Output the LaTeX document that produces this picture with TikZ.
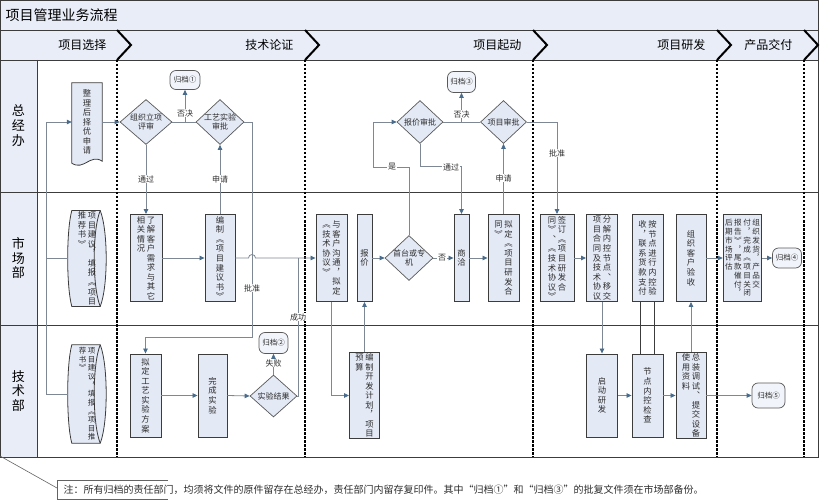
\documentclass[tikz,border=0pt]{standalone}
\usepackage{fontspec}
\setmainfont{Noto Sans CJK SC}
\usetikzlibrary{shapes.geometric,arrows.meta,calc,backgrounds}

\definecolor{bandfill}{RGB}{232,237,247}
\definecolor{boxfill}{RGB}{227,233,245}
\definecolor{boxline}{RGB}{60,60,60}
\definecolor{flowline}{RGB}{125,136,148}
\definecolor{tipblue}{RGB}{74,108,140}
\definecolor{inkgray}{RGB}{45,45,45}

\newcommand\vcol[1]{\vtop{\hsize=1.2em\baselineskip=1.15em\lineskiplimit=-20pt\vcolchars#1\relax}}
\def\vcolchars#1{\ifx\relax#1\else\hbox to\hsize{\hss#1\hss}\expandafter\vcolchars\fi}

\tikzset{
  proc/.style={rectangle, draw=boxline, fill=boxfill, line width=0.9pt, minimum height=87, inner sep=1pt, text=inkgray, font=\fontsize{8.3}{9.5}\selectfont},
  docnode/.style={rectangle, inner sep=1pt, text=inkgray, font=\fontsize{8.3}{9.5}\selectfont},
  docline/.style={draw=boxline, fill=boxfill, line width=0.8pt},
  decision/.style={diamond, draw=gray!70!black, fill=boxfill, line width=0.7pt, inner sep=0pt, label={[dlabel]center:#1}},
  dlabel/.style={align=center, font=\fontsize{8}{9.5}\selectfont, text=inkgray},
  archive/.style={rectangle, rounded corners=6pt, draw=gray!70!black, fill=boxfill!50!white, line width=0.7pt, inner sep=1pt, font=\fontsize{7.5}{9}\selectfont, text=inkgray},
  conn/.style={draw=flowline, line width=0.8pt},
  arr/.style={conn, -{Triangle[length=5pt, width=4.5pt, color=tipblue]}},
  lab/.style={fill=white, inner sep=0.6pt, font=\fontsize{8}{9}\selectfont, text=inkgray},
  phase/.style={line width=2.4pt, dash pattern=on 2.5pt off 1.5pt},
  chev/.style={line width=2pt, line join=miter},
  lane/.style={font=\fontsize{13}{15}\selectfont},
  head/.style={anchor=east, font=\fontsize{12}{14}\selectfont}
}

\begin{document}
\begin{tikzpicture}[x=1pt, y=-1pt]
        \useasboundingbox (0,0) rectangle (820,500);

        \fill[bandfill] (0,0) rectangle (818,60);
        \fill[bandfill] (0,60) rectangle (37,457);
        \draw[boxline, line width=0.8pt] (0,0) rectangle (818,457);
        \draw[boxline, line width=0.8pt] (0,30) -- (818,30);
        \draw[boxline, line width=0.8pt] (0,60) -- (818,60);
        \draw[boxline, line width=0.8pt] (0,192) -- (818,192);
        \draw[boxline, line width=0.8pt] (0,325) -- (818,325);
        \draw[boxline, line width=0.8pt] (37,60) -- (37,457);

        \foreach \p in {117,305,533,717,804} {
            \draw[chev] (\p,30) -- (\p+14,45) -- (\p,60);
            \draw[phase] (\p,60) -- (\p,457);
        }

        \node[anchor=west, font=\fontsize{14}{16}\selectfont] (title) at (2,15) {项目管理业务流程};
        \node[head] (h1) at (110,45) {项目选择};
        \node[head] (h2) at (297,45) {技术论证};
        \node[head] (h3) at (525,45) {项目起动};
        \node[head] (h4) at (709,45) {项目研发};
        \node[head] (h5) at (796,45) {产品交付};

        \node[lane] (zjb) at (18.5,126) {\vcol{总经办}};
        \node[lane] (scb) at (18.5,258) {\vcol{市场部}};
        \node[lane] (jsb) at (18.5,391) {\vcol{技术部}};

        \node[docnode, minimum width=30, minimum height=78] (zhengli) at (87,122) {\vcol{整理后择优申请}};
        \node[docnode, minimum width=38, minimum height=91] (tuijian1) at (87,258.5) {\vcol{推荐书︾}\vcol{项目建议︐填报︽项目}};
        \node[docnode, minimum width=38, minimum height=98, font=\fontsize{7.5}{8.6}\selectfont] (tuijian2) at (87,394) {\vcol{荐书︾}\vcol{项目建议︐填报︽项目推}};

        \begin{pgfonlayer}{background}
            \filldraw[docline] (zhengli.north west) -- (zhengli.north east) -- (zhengli.south east) .. controls +(-12,-8) and +(12,8) .. ($(zhengli.south west)+(0,2)$) -- cycle;
            \foreach \d in {tuijian1,tuijian2} {
                \filldraw[docline] ($(\d.north west)+(4,0)$) -- ($(\d.north east)+(-6,0)$) .. controls +(8,20) and +(8,-20) .. ($(\d.south east)+(-6,0)$) -- ($(\d.south west)+(4,0)$) .. controls +(-5.5,-20) and +(-5.5,20) .. ($(\d.north west)+(4,0)$) -- cycle;
                \draw[docline, fill=none] ($(\d.north east)+(-6,0)$) .. controls +(-8,20) and +(-8,-20) .. ($(\d.south east)+(-6,0)$);
            }
        \end{pgfonlayer}

        \node[decision={组织立项\\评审}, minimum width=52, minimum height=45] (pingshen) at (146,122) {};
        \node[decision={工艺实验\\审批}, minimum width=48, minimum height=45] (gyshenpi) at (220,122) {};
        \node[decision=报价审批, minimum width=46, minimum height=43] (bjshenpi) at (420,122) {};
        \node[decision=项目审批, minimum width=46, minimum height=43] (xmshenpi) at (503.5,122) {};
        \node[decision={首台或专\\机}, minimum width=48, minimum height=45] (zhuanji) at (409,258) {};
        \node[decision=实验结果, minimum width=47, minimum height=42] (jieguo) at (273.5,396) {};

        \node[archive, minimum width=30, minimum height=19] (guidang1) at (185,80) {归档①};
        \node[archive, minimum width=29, minimum height=21] (guidang2) at (273.5,343) {归档②};
        \node[archive, minimum width=28, minimum height=21] (guidang3) at (461.5,82) {归档③};
        \node[archive, minimum width=29, minimum height=20] (guidang4) at (787,258) {归档④};
        \node[archive, minimum width=33, minimum height=25] (guidang5) at (768.5,395.5) {归档⑤};

        \node[proc, minimum width=32] (liaojie) at (146,258) {\vcol{相关情况}\vcol{了解客户需求与其它}};
        \node[proc, minimum width=30] (bianzhi) at (220,258) {\vcol{编制︽项目建议书︾}};
        \node[proc, minimum width=31] (goutong) at (331.5,258) {\vcol{︽技术协议︾}\vcol{与客户沟通︐拟定}};
        \node[proc, minimum width=15] (baojia) at (364.5,258) {\vcol{报价}};
        \node[proc, minimum width=15] (shangqia) at (461.5,258) {\vcol{商洽}};
        \node[proc, minimum width=31] (hetong) at (503.5,258) {\vcol{同︾}\vcol{拟定︽项目研发合}};
        \node[proc, minimum width=34] (qianding) at (557,258) {\vcol{同︾︑︽技术协议︾}\vcol{签订︽项目研发合}};
        \node[proc, minimum width=31] (fenjie) at (602,258) {\vcol{项目合同及技术协议}\vcol{分解内控节点︑移交}};
        \node[proc, minimum width=31] (neikong) at (647.5,258) {\vcol{收︐联系货款支付}\vcol{按节点进行内控验}};
        \node[proc, minimum width=30] (yanshou) at (691,258) {\vcol{组织客户验收}};
        \node[proc, minimum width=38, font=\fontsize{7.6}{9}\selectfont] (fahuo) at (742.5,258) {\vcol{后期市场评估}\vcol{报告︾︐尾款催付︐}\vcol{付︐完成︽项目关闭}\vcol{组织发货︐产品交}};

        \node[proc, minimum width=31, minimum height=83] (fangan) at (145.5,395.5) {\vcol{拟定工艺实验方案}};
        \node[proc, minimum width=29, minimum height=83] (wancheng) at (212.5,395.5) {\vcol{完成实验}};
        \node[proc, minimum width=30, minimum height=83] (jihua) at (364.5,395.5) {\vcol{预算}\vcol{编制开发计划︐项目}};
        \node[proc, minimum width=31, minimum height=83] (qidong) at (602,395.5) {\vcol{启动研发}};
        \node[proc, minimum width=31, minimum height=83] (jiancha) at (647.5,395.5) {\vcol{节点内控检查}};
        \node[proc, minimum width=30, minimum height=83] (zongzhuang) at (691,395.5) {\vcol{使用资料}\vcol{总装调试︑提交设备}};

        \coordinate (feed) at (46,122);
        \draw[arr] (tuijian1.west) -| (feed) -- (zhengli.west);
        \draw[conn] (tuijian2.west) -| (tuijian1.west -| feed);
        \draw[arr] (zhengli.east) -- (pingshen.west);
        \draw[conn] (pingshen.east) -- (gyshenpi.west);
        \draw[arr] (guidang1.south |- pingshen.east) -- (guidang1.south);
        \draw[arr] (pingshen.south) -- (liaojie.north);
        \draw[arr] (bianzhi.north) -- (gyshenpi.south);
        \draw[arr] (gyshenpi.east) -- (252,122) -- (252,337) -| (fangan.north);
        \draw[arr] (liaojie.east) -- (bianzhi.west);
        \draw[arr] (bianzhi.east) -- (248.5,258) arc[start angle=180, end angle=360, radius=3.5] -- (goutong.west);
        \draw[conn] (jieguo.east) -| (298,258);
        \draw[arr] (jieguo.north) -- (guidang2.south);
        \draw[arr] (fangan.east) -- (wancheng.west);
        \draw[arr] (wancheng.east) -- (jieguo.west);
        \draw[arr] (goutong.south) |- (jihua.west);
        \draw[arr] (jihua.south |- jihua.north) -- (baojia.south);
        \draw[arr] (baojia.east) -- (zhuanji.west);
        \draw[arr] (zhuanji.north) |- (373,167) |- (bjshenpi.west);
        \draw[arr] (bjshenpi.south) -- ++(0,23) -| (shangqia.north);
        \draw[conn] (bjshenpi.east) -- (xmshenpi.west);
        \draw[arr] (guidang3.south |- bjshenpi.east) -- (guidang3.south);
        \draw[arr] (zhuanji.east) -- (shangqia.west);
        \draw[arr] (shangqia.east) -- (hetong.west);
        \draw[arr] (hetong.north) -- (xmshenpi.south);
        \draw[arr] (xmshenpi.east) -| (qianding.north);
        \draw[arr] (qianding.east) -- (fenjie.west);
        \draw[arr] (fenjie.south) -- (qidong.north);
        \foreach \s in {-7,7}
            \draw[boxline, line width=0.9pt] ([xshift=\s]neikong.south) -- ([xshift=\s]jiancha.north);
        \draw[arr] (qidong.east) -- (jiancha.west);
        \draw[arr] (jiancha.east) -- (zongzhuang.west);
        \draw[arr] (zongzhuang.north) -- (yanshou.south);
        \draw[arr] (zongzhuang.east) -- (guidang5.west);
        \draw[arr] (yanshou.east) -- (fahuo.west);
        \draw[arr] (fahuo.east) -- (guidang4.west);

        \node[lab] (l1) at (185,113) {否决};
        \node[lab] (l2) at (146,179) {通过};
        \node[lab] (l3) at (220,179) {申请};
        \node[lab] (l4) at (252,288) {批准};
        \node[lab] (l5) at (298,317) {成功};
        \node[lab] (l6) at (273.5,363) {失败};
        \node[lab] (l7) at (392,167) {是};
        \node[lab] (l8) at (451,167) {通过};
        \node[lab] (l9) at (461.5,114) {否决};
        \node[lab] (l10) at (442,258) {否};
        \node[lab] (l11) at (503.5,178) {申请};
        \node[lab] (l12) at (557,153) {批准};

        \draw[boxline!80, line width=0.6pt] (0,456) -- (57,488);
        \draw[boxline!80, line width=0.6pt] (168,480) -- (57,480) -- (57,499) -- (168,499);
        \node[anchor=west, font=\fontsize{10}{12}\selectfont, text=inkgray] (note) at (60,490) {注：所有归档的责任部门，均须将文件的原件留存在总经办，责任部门内留存复印件。其中“归档①”和“归档③”的批复文件须在市场部备份。};
\end{tikzpicture}
\end{document}
